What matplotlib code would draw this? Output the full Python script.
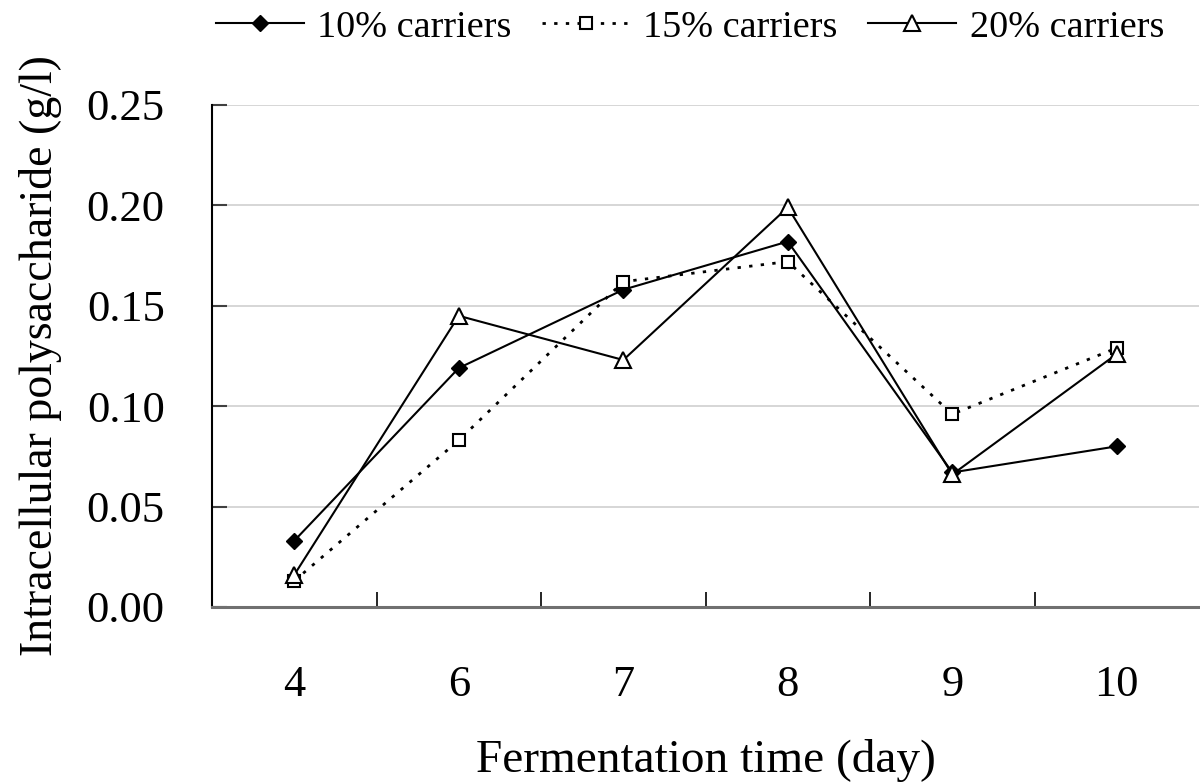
import numpy as np
import matplotlib
matplotlib.use('Agg')
from matplotlib import pyplot as plt
from matplotlib.ticker import MultipleLocator, FixedLocator

days = ['4', '6', '7', '8', '9', '10']
carriers_10 = [0.033, 0.119, 0.158, 0.182, 0.067, 0.080]
carriers_15 = [0.013, 0.083, 0.162, 0.172, 0.096, 0.129]
carriers_20 = [0.016, 0.145, 0.123, 0.199, 0.066, 0.126]
labels = ['10% carriers', '15% carriers', '20% carriers']

plt.rcParams['font.family'] = ['Liberation Serif', 'DejaVu Serif']

fig = plt.figure(figsize=(12, 7.84), dpi=100)
ax = fig.add_axes([0.1767, 0.2258, 0.8225, 0.6403])

x = np.arange(len(days))
ax.plot(x, carriers_10, color='black', lw=1.5, marker='D', ms=8,
        mfc='black', mec='black', label=labels[0], zorder=3)
ax.plot(x, carriers_15, color='black', lw=2, ls=(0, (1.2, 3)), marker='s', ms=9,
        mfc='white', mec='black', mew=1.5, label=labels[1], zorder=3)
ax.plot(x, carriers_20, color='black', lw=1.5, marker='^', ms=11,
        mfc='white', mec='black', mew=1.5, label=labels[2], zorder=3)

ax.set_xlim(-0.5, len(days) - 0.5)
ax.set_ylim(0, 0.25)
ax.yaxis.set_major_locator(MultipleLocator(0.05))
ax.set_yticklabels(['%.2f' % v for v in ax.get_yticks()])
ax.yaxis.grid(True, color='#d0d0d0', lw=1.2)
ax.set_axisbelow(True)

ax.set_xticks(x)
ax.set_xticklabels(days)
ax.xaxis.set_minor_locator(FixedLocator(np.arange(0.5, len(days) - 0.5, 1)))
ax.tick_params(axis='x', which='major', length=0, pad=42, labelsize=32)
ax.tick_params(axis='x', which='minor', direction='in', length=11, width=1.2, color='black')
ax.tick_params(axis='y', direction='in', length=11, width=1.5, color='#404040', pad=34, labelsize=32)

for s in ['top', 'right']:
    ax.spines[s].set_visible(False)
ax.spines['left'].set_color('black')
ax.spines['left'].set_linewidth(1.5)
ax.spines['bottom'].set_color('#707070')
ax.spines['bottom'].set_linewidth(2.2)

ax.set_xlabel('Fermentation time (day)', fontsize=34, labelpad=24)
ax.set_ylabel('Intracellular polysaccharide (g/l)', fontsize=33, labelpad=18)

fig.legend(loc='center', bbox_to_anchor=(0.575, 0.965), ncol=3, frameon=False,
           fontsize=27.5, handlelength=2.3, handletextpad=0.35, columnspacing=0.8,
           borderaxespad=0)

plt.savefig('out.png', dpi=100)
